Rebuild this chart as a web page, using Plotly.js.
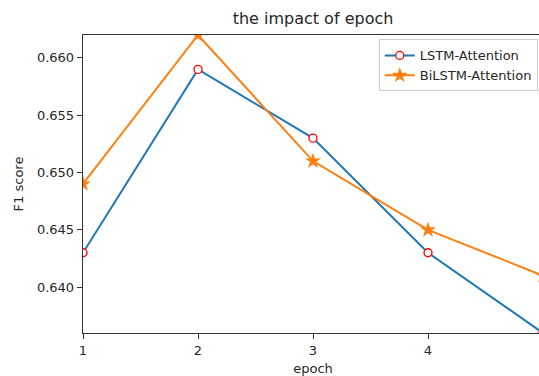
<!DOCTYPE html>
<html>
<head>
<meta charset="utf-8">
<script src="https://cdn.plot.ly/plotly-3.0.1.min.js"></script>
<style>
html,body{margin:0;padding:0;overflow:hidden;width:539px;height:376px;background:#fff;}
#chart{width:545px;height:376px;}
</style>
</head>
<body>
<div id="chart"></div>
<script>
const epochs = [1, 2, 3, 4, 5];
const lstmAttention = [0.643, 0.659, 0.653, 0.643, 0.636];
const bilstmAttention = [0.649, 0.662, 0.651, 0.645, 0.641];
const xTicks = [1, 2, 3, 4, 5];
const yTicks = [0.640, 0.645, 0.650, 0.655, 0.660];

const font = "DejaVu Sans, sans-serif";
const traces = [
  {
    x: epochs, y: lstmAttention, name: "LSTM-Attention",
    mode: "lines+markers", type: "scatter",
    line: {color: "#1f77b4", width: 2},
    marker: {symbol: "circle", size: 8, color: "#ffffff", line: {color: "#ff0000", width: 1.3}}
  },
  {
    x: epochs, y: bilstmAttention, name: "BiLSTM-Attention",
    mode: "lines+markers", type: "scatter",
    line: {color: "#ff7f0e", width: 2},
    marker: {symbol: "star", size: 12, color: "#ff7f0e", line: {width: 0}}
  }
];

const layout = {
  width: 545, height: 376,
  margin: {l: 83, r: 2, t: 35, b: 43},
  paper_bgcolor: "#ffffff", plot_bgcolor: "#ffffff",
  font: {family: font, size: 13, color: "#262626"},
  showlegend: true,
  title: {text: "the impact of epoch", font: {family: font, size: 16, color: "#262626"},
          x: 0.5, xref: "paper", xanchor: "center", y: 1 - 18/376, yref: "container", yanchor: "middle"},
  xaxis: {
    range: [1, 5], tickvals: xTicks, ticktext: xTicks.map(String),
    showgrid: false, zeroline: false, showline: true, mirror: true,
    linecolor: "#333333", linewidth: 1.3,
    ticks: "outside", ticklen: 5, tickwidth: 1, tickcolor: "#333333",
    tickfont: {family: font, size: 13, color: "#262626"},
    title: {text: "epoch", font: {family: font, size: 13, color: "#262626"}, standoff: 8}
  },
  yaxis: {
    range: [0.636, 0.662], tickvals: yTicks, tickformat: ".3f",
    showgrid: false, zeroline: false, showline: true, mirror: true,
    linecolor: "#333333", linewidth: 1.3,
    ticks: "outside", ticklen: 5, tickwidth: 1, tickcolor: "#333333",
    tickfont: {family: font, size: 13, color: "#262626"},
    title: {text: "F1 score", font: {family: font, size: 13, color: "#262626"}, standoff: 10}
  },
  legend: {
    x: 0.643, y: 0.985, xanchor: "left", yanchor: "top",
    bgcolor: "#ffffff", bordercolor: "#cccccc", borderwidth: 1,
    font: {family: font, size: 13, color: "#262626"},
    tracegroupgap: 0, itemsizing: "trace"
  }
};

Plotly.newPlot("chart", traces, layout, {staticPlot: true, displayModeBar: false});
</script>
</body>
</html>
